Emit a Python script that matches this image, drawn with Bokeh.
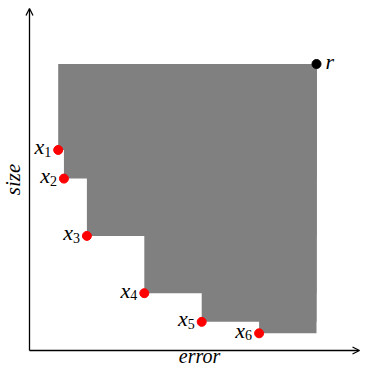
import numpy as np
from bokeh.plotting import figure
from bokeh.models import Range1d, Arrow, OpenHead
from bokeh.core.properties import value
from bokeh.embed import file_html
from bokeh.resources import INLINE

# data: candidate solutions (error, size) and the reference point r
sub_labels = ["1", "2", "3", "4", "5", "6"]
error = [1.0, 1.2, 2.0, 4.0, 6.0, 8.0]
size = [7.0, 6.0, 4.0, 2.0, 1.0, 0.6]
ref_error = [10.0]
ref_size = [10.0]
ref_label = ["r"]
x_title = "error"
y_title = "size"

W, H = 361, 367
SX, SY = 28.7, 28.65
X0 = -29 / SX
X1 = X0 + W / SX
Y1 = 350 / SY
Y0 = Y1 - H / SY

p = figure(width=W, height=H, x_range=Range1d(X0, X1), y_range=Range1d(Y0, Y1),
           output_backend="svg", toolbar_location=None, min_border=0)
p.axis.visible = False
p.grid.visible = False
p.outline_line_color = None

n = len(error)
# dominated region (union of rectangles from each point to r)
p.quad(left=error, right=ref_error * n, bottom=size, top=ref_size * n,
       fill_color="#808080", line_color=None)

FONT = "Liberation Serif"
p.text(x=error, y=size, text=["x"] * n, text_font=value(FONT), text_font_style="italic",
       text_font_size="22px", text_align="right", text_baseline="alphabetic",
       x_offset=-14, y_offset=-3, text_color="black")
p.text(x=error, y=size, text=sub_labels, text_font=value(FONT), text_font_style="normal",
       text_font_size="14px", text_align="right", text_baseline="alphabetic",
       x_offset=-7, y_offset=2, text_color="black")
p.text(x=ref_error, y=ref_size, text=ref_label, text_font=value(FONT), text_font_style="italic",
       text_font_size="22px", text_align="left", text_baseline="alphabetic",
       x_offset=9, y_offset=-3, text_color="black")

p.scatter(error, size, size=9, color="red")
p.scatter(ref_error, ref_size, size=9, color="black")

# axes with arrows
xe = X1 - 2 / SX
ye = Y1 - 8 / SY
p.add_layout(Arrow(end=OpenHead(size=7, line_width=1.3), x_start=0, y_start=0,
                   x_end=xe, y_end=0, line_width=1.3, line_color="black"))
p.add_layout(Arrow(end=OpenHead(size=7, line_width=1.3), x_start=0, y_start=0,
                   x_end=0, y_end=ye, line_width=1.3, line_color="black"))

# axis titles, centred along each arrow
p.text(x=[(0 + X1 + 8 / SX) / 2], y=[0], text=[x_title], text_font=value(FONT),
       text_font_style="italic", text_font_size="20px", text_align="center",
       text_baseline="alphabetic", y_offset=5, text_color="black")
p.text(x=[0], y=[ye / 2], text=[y_title], text_font=value(FONT),
       text_font_style="italic", text_font_size="21px", text_align="center",
       text_baseline="alphabetic", angle=np.pi / 2, x_offset=-17, text_color="black")

open("out.html", "w").write(file_html(p, INLINE))
